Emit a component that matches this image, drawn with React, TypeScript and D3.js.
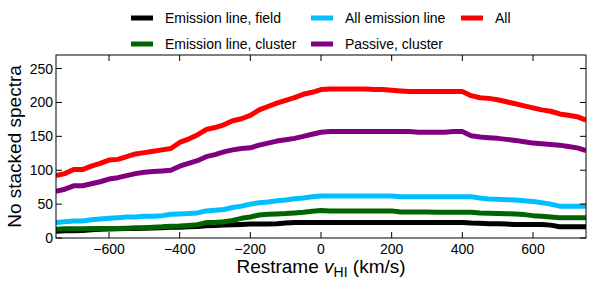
import React from 'react';
import * as d3 from 'd3';

// velocity grid (km/s), 25 km/s steps
const velocity = d3.range(-750, 751, 25);

const emissionField = [
	10, 10.8, 10.8, 11, 12, 13, 13.3, 13.5, 14, 14, 14.3, 14.8, 15.3, 15.8, 16, 16.5, 17, 18, 18.5, 19, 19.5,
	20, 20.5, 20.5, 20.7, 21, 22, 23, 23, 23, 23, 23, 23, 23, 23, 23, 23, 23, 23, 23, 23, 23, 23, 23, 23, 23, 23,
	22, 21.7, 21, 21, 20.5, 20, 20, 20, 20, 19, 16.7, 16.7, 16.7, 16.7,
];
const emissionCluster = [
	13, 13.5, 13.8, 13.8, 13.9, 14, 14, 14.2, 14.5, 15, 15.3, 16, 16.5, 17.3, 17.7, 18.5, 19.5, 22.7, 23, 24, 26,
	29, 31, 34, 35, 35.5, 36, 37, 38, 39.5, 40.4, 40, 40, 40, 40, 40, 40, 40, 40, 38.5, 38.5, 38.5, 38.5, 38, 38, 38, 38,
	38, 37, 36.5, 36, 35.7, 35.5, 34.5, 33, 32, 31, 30, 30, 30, 30,
];
const allEmission = [
	23, 24, 25, 25, 27, 28, 29, 30, 31, 31, 32, 32, 33, 35, 35.5, 36, 37, 40, 41, 42, 45,
	47, 50, 52, 53, 55, 56, 58, 59, 61, 62, 62, 62, 62, 62, 62, 62, 62, 62, 61, 61, 61, 61, 61, 61, 61, 61,
	61, 59, 57.7, 57, 56.5, 56, 55, 54, 52, 50, 47, 47, 47, 47,
];
const passiveCluster = [
	69, 72, 77, 77, 80, 83, 87, 89, 92, 95, 97, 98, 99, 100, 106, 110, 114, 120, 123, 127, 130,
	132, 133, 137, 140, 143, 145, 147, 150, 153, 156, 157, 157, 157, 157, 157, 157, 157, 157, 157, 157, 156, 156, 156, 156, 157, 157,
	151, 149, 148, 147, 145.5, 144, 142, 140, 139, 138, 137, 135, 133, 129,
];
const allSpectra = [
	92, 95, 101, 101, 106, 110, 115, 116, 120, 124, 126, 128, 130, 132, 141, 146, 152, 160, 163, 167, 173,
	176, 181, 189, 194, 199, 203, 207, 212, 215, 219, 220, 220, 220, 220, 220, 219, 219, 218, 217, 216, 216, 216, 216, 216, 216, 216,
	210, 207, 206, 204, 201, 198, 195, 192, 189, 187, 183, 181, 179, 174,
];

const seriesNames = ['Emission line, field', 'Emission line, cluster', 'All emission line', 'Passive, cluster', 'All'];
const seriesColors = ['#000000', '#006400', '#00bfff', '#800080', '#ff0000'];
const seriesValues = [emissionField, emissionCluster, allEmission, passiveCluster, allSpectra];

const xTicks = [-600, -400, -200, 0, 200, 400, 600];
const yTicks = [0, 50, 100, 150, 200, 250];

const width = 592;
const height = 283;
const margin = { top: 55, right: 6, bottom: 45, left: 56 };

const font = '"Liberation Sans", Arial, Helvetica, sans-serif';

// legend layout: [column x, row y] per series
const legendSlots = [
	[131, 18], [131, 44], [311, 18], [311, 44], [461, 18],
];

export default function App() {
	const x = d3.scaleLinear().domain([-750, 750]).range([margin.left, width - margin.right]);
	const y = d3.scaleLinear().domain([0, 270]).range([height - margin.bottom, margin.top]);
	const x0 = x.range()[0], x1 = x.range()[1];
	const y0 = y.range()[0], y1 = y.range()[1];
	const tick = 6;

	const line = d3.line<number>()
		.x((_, i) => x(velocity[i]))
		.y((d) => y(d));

	return (
		<svg width={width} height={height} style={{ position: 'absolute', left: 0, top: 0 }} fontFamily={font}>
			<defs>
				<clipPath id="plot">
					<rect x={x0} y={y1} width={x1 - x0} height={y0 - y1} />
				</clipPath>
			</defs>
			<g clipPath="url(#plot)">
				{seriesValues.map((vals, i) => (
					<path key={i} d={line(vals) || ''} fill="none" stroke={seriesColors[i]} strokeWidth={5} strokeLinejoin="round" />
				))}
			</g>
			<rect x={x0} y={y1} width={x1 - x0} height={y0 - y1} fill="none" stroke="#000" strokeWidth={1} />
			{xTicks.map((t) => (
				<g key={'x' + t}>
					<line x1={x(t)} x2={x(t)} y1={y0} y2={y0 - tick} stroke="#000" />
					<line x1={x(t)} x2={x(t)} y1={y1} y2={y1 + tick} stroke="#000" />
					<text x={x(t)} y={y0 + 16} fontSize={14} textAnchor="middle">{t < 0 ? '\u2212' + Math.abs(t) : t}</text>
				</g>
			))}
			{yTicks.map((t) => (
				<g key={'y' + t}>
					<line x1={x0} x2={x0 + tick} y1={y(t)} y2={y(t)} stroke="#000" />
					<line x1={x1} x2={x1 - tick} y1={y(t)} y2={y(t)} stroke="#000" />
					<text x={x0 - 3} y={y(t) + 5} fontSize={14} textAnchor="end">{t}</text>
				</g>
			))}
			<text x={(x0 + x1) / 2} y={273} fontSize={19} textAnchor="middle">
				Restrame <tspan fontStyle="italic">v</tspan><tspan fontSize={14} dy={4}>HI</tspan><tspan dy={-4}> (km/s)</tspan>
			</text>
			<text transform={`translate(21,${(y0 + y1) / 2}) rotate(-90)`} fontSize={19} textAnchor="middle">No stacked spectra</text>
			{seriesNames.map((name, i) => (
				<g key={name}>
					<line x1={legendSlots[i][0]} x2={legendSlots[i][0] + 22} y1={legendSlots[i][1]} y2={legendSlots[i][1]} stroke={seriesColors[i]} strokeWidth={5} />
					<text x={legendSlots[i][0] + 34} y={legendSlots[i][1] + 5} fontSize={14}>{name}</text>
				</g>
			))}
		</svg>
	);
}
